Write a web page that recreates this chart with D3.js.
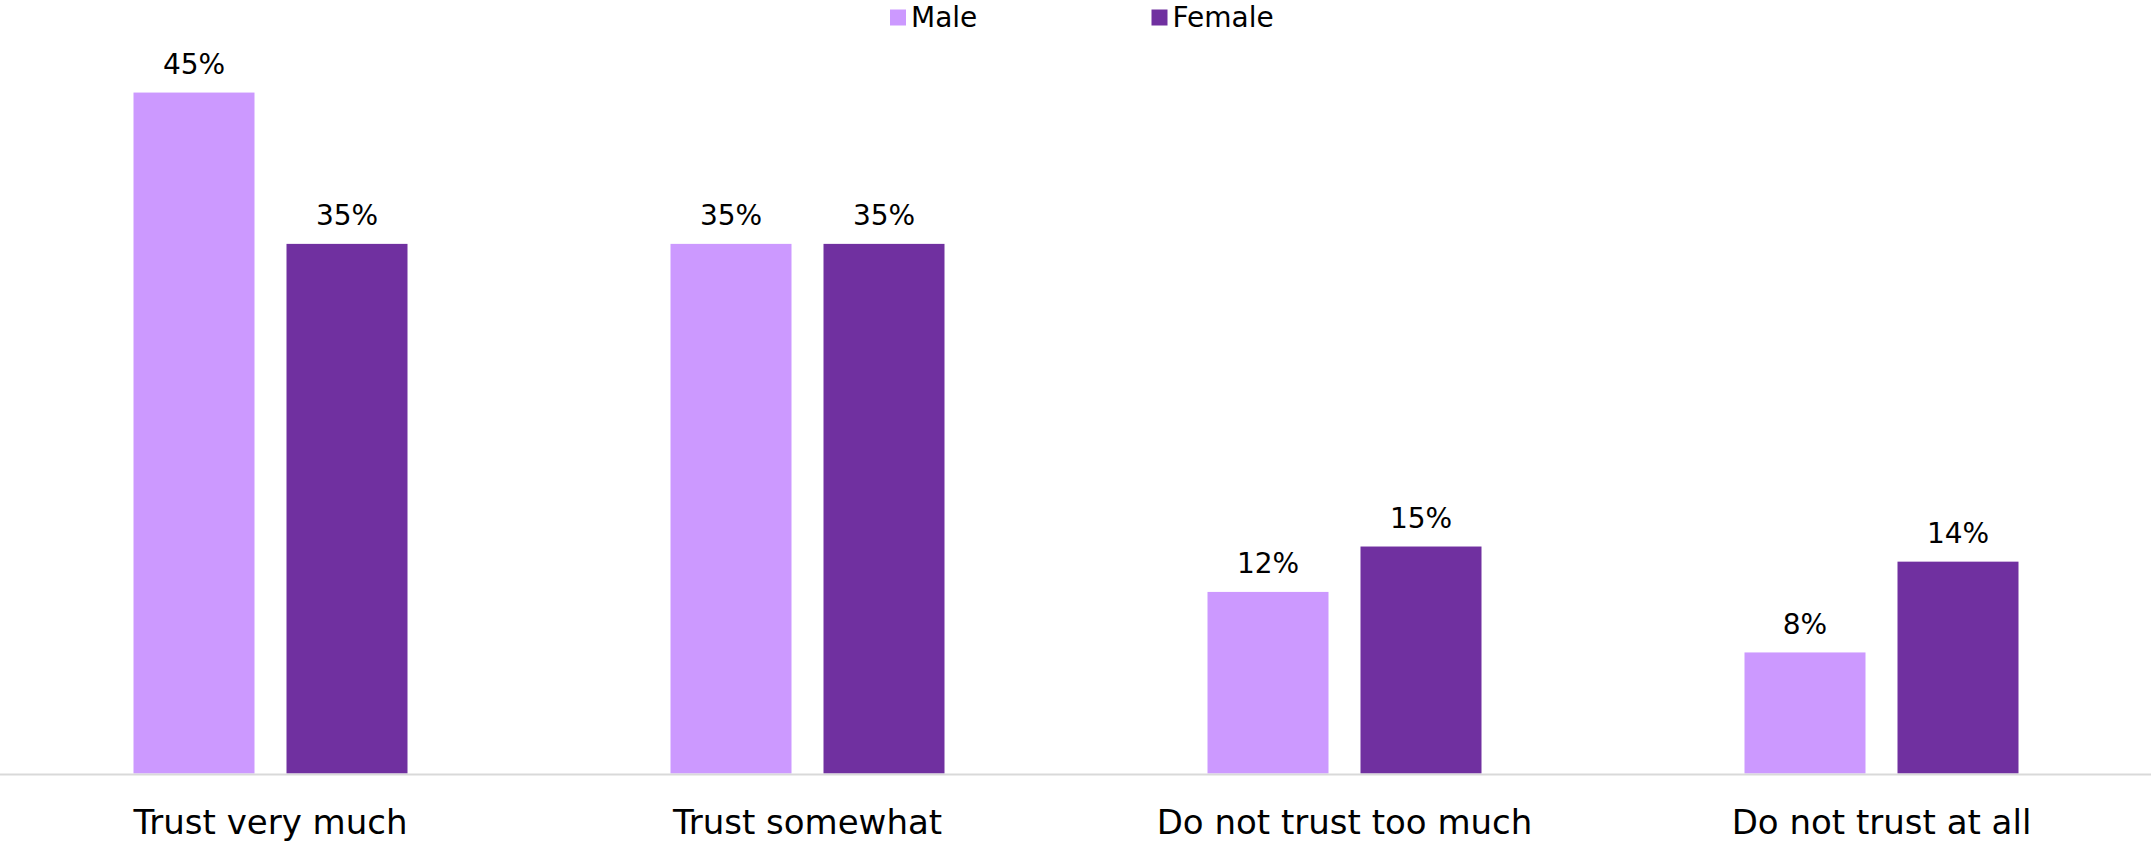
<!DOCTYPE html>
<html>
<head>
<meta charset="utf-8">
<script src="https://cdn.jsdelivr.net/npm/d3@7"></script>
<style>
  html, body { margin: 0; padding: 0; background: #fff; }
  svg { display: block; }
  text { font-family: "DejaVu Sans", sans-serif; fill: #000; }
</style>
</head>
<body>
<svg id="chart" width="2151" height="842"></svg>
<script>
const categories = ["Trust very much", "Trust somewhat", "Do not trust too much", "Do not trust at all"];
const seriesNames = ["Male", "Female"];
const maleValues = [45, 35, 12, 8];
const femaleValues = [35, 35, 15, 14];
const seriesColors = ["#CC99FF", "#7030A0"];

const W = 2151, H = 842;
const svg = d3.select("#chart");

const table = categories.map((c, i) => ({
  category: c,
  values: [
    { series: seriesNames[0], value: maleValues[i] },
    { series: seriesNames[1], value: femaleValues[i] }
  ]
}));

const x0 = d3.scaleBand().domain(categories).range([2, 2150]).padding(0);
const groupWidth = 274;
const x1 = d3.scaleBand().domain(seriesNames)
  .range([(x0.bandwidth() - groupWidth) / 2, (x0.bandwidth() + groupWidth) / 2])
  .paddingInner(32 / 153).paddingOuter(0);
const y = d3.scaleLinear().domain([0, 50]).range([773.5, 16.9]);
const color = d3.scaleOrdinal().domain(seriesNames).range(seriesColors);

// bars
const groups = svg.append("g").selectAll("g").data(table).join("g")
  .attr("transform", d => `translate(${x0(d.category)},0)`);

groups.selectAll("rect").data(d => d.values).join("rect")
  .attr("x", d => x1(d.series))
  .attr("width", x1.bandwidth())
  .attr("y", d => y(d.value))
  .attr("height", d => y(0) - y(d.value))
  .attr("fill", d => color(d.series));

groups.selectAll("text.val").data(d => d.values).join("text")
  .attr("class", "val")
  .attr("x", d => x1(d.series) + x1.bandwidth() / 2)
  .attr("y", d => y(d.value) - 18.5)
  .attr("text-anchor", "middle")
  .style("font-size", "28px")
  .text(d => d.value + "%");

// axis line
svg.append("line")
  .attr("x1", 0).attr("x2", W)
  .attr("y1", 774.5).attr("y2", 774.5)
  .attr("stroke", "#d9d9d9").attr("stroke-width", 2);

// category axis
const xAxis = d3.axisBottom(x0).tickSize(0).tickPadding(0);
const axisG = svg.append("g").attr("transform", "translate(0,774.5)").call(xAxis);
axisG.select(".domain").remove();
axisG.selectAll("text")
  .attr("y", 59.5).attr("dy", 0)
  .style("font-size", "34px")
  .style("font-family", "'DejaVu Sans', sans-serif")
  .attr("fill", "#000");

// legend
const legendItems = [
  { name: seriesNames[0], x: 890 },
  { name: seriesNames[1], x: 1151.5 }
];
const lg = svg.append("g").selectAll("g").data(legendItems).join("g")
  .attr("transform", d => `translate(${d.x},0)`);
lg.append("rect")
  .attr("x", 0).attr("y", 9.5).attr("width", 16).attr("height", 16)
  .attr("fill", d => color(d.name));
lg.append("text")
  .attr("x", 21).attr("y", 27)
  .style("font-size", "28px")
  .text(d => d.name);
</script>
</body>
</html>
